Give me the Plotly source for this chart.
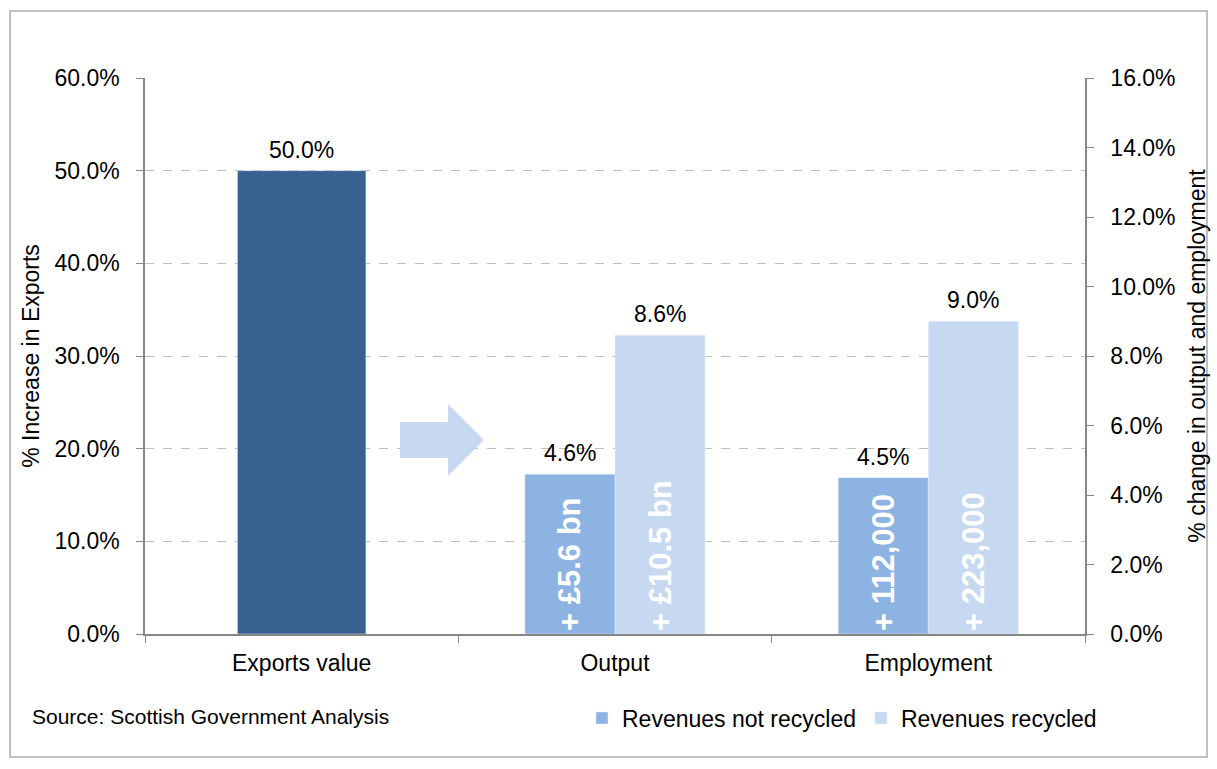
import plotly.graph_objects as go

categories = ["Exports value", "Output", "Employment"]
exports_value = [50.0]
not_recycled = [4.6, 4.5]
recycled = [8.6, 9.0]
not_recycled_text = ["+ £5.6 bn", "+ 112,000"]
recycled_text = ["+ £10.5 bn", "+ 223,000"]
left_ticks = [0, 10, 20, 30, 40, 50, 60]
right_ticks = [0, 2, 4, 6, 8, 10, 12, 14, 16]

W, H = 1217, 769
ML, MR, MT, MB = 145, 132, 78, 135
PW, PH = W - ML - MR, H - MT - MB

def px(x):
    return (x - ML) / PW

def py(y):
    return (H - MB - y) / PH

DARK = "#386192"
MID = "#8db3e2"
LIGHT = "#c6d9f1"
FONT = "Liberation Sans, Arial, sans-serif"
FS = 23

idx = list(range(len(categories)))
grp_w = 0.2875
exp_w = 0.41
sub_x = idx[1:]
x_nr = [i - grp_w / 2 for i in sub_x]
x_r = [i + grp_w / 2 for i in sub_x]

inside_font = dict(color="white", size=31, family=FONT, weight="bold")
label_font = dict(size=FS, color="black", family=FONT)

fig = go.Figure()
fig.add_trace(go.Bar(x=[idx[0]], y=exports_value, width=exp_w, marker_color=DARK,
                     showlegend=False, hoverinfo="skip", yaxis="y"))
fig.add_trace(go.Bar(x=x_nr, y=not_recycled, width=grp_w, marker_color=MID,
                     name="Revenues not recycled", yaxis="y2", hoverinfo="skip",
                     text=not_recycled_text, textposition="inside", insidetextanchor="start",
                     textangle=-90, textfont=inside_font, constraintext="none"))
fig.add_trace(go.Bar(x=x_r, y=recycled, width=grp_w, marker_color=LIGHT,
                     name="Revenues recycled", yaxis="y2", hoverinfo="skip",
                     text=recycled_text, textposition="inside", insidetextanchor="start",
                     textangle=-90, textfont=inside_font, constraintext="none"))

# value labels above bars
annotations = []
for x, v in zip([idx[0]], exports_value):
    annotations.append(dict(x=x, y=v, xref="x", yref="y", text=f"{v:.1f}%", showarrow=False,
                            yanchor="bottom", yshift=6, font=label_font))
for x, v in zip(x_nr + x_r, not_recycled + recycled):
    annotations.append(dict(x=x, y=v, xref="x", yref="y2", text=f"{v:.1f}%", showarrow=False,
                            yanchor="bottom", yshift=6, font=label_font))
annotations.append(dict(text="Source: Scottish Government Analysis", xref="paper", yref="paper",
                        x=px(30), y=py(716), xanchor="left", yanchor="middle", showarrow=False,
                        font=dict(size=21, color="black", family=FONT)))

axis_font = dict(size=FS, color="black", family=FONT)
AX = "#868686"
fig.update_layout(
    width=W, height=H,
    margin=dict(l=ML, r=MR, t=MT, b=MB),
    paper_bgcolor="white", plot_bgcolor="white",
    font=dict(family=FONT, size=FS, color="black"),
    barmode="overlay",
    xaxis=dict(range=[-0.5, 2.5], tickvals=idx, ticktext=categories, ticks="",
               showgrid=False, zeroline=False, showline=True, linecolor=AX, linewidth=1.5,
               tickfont=axis_font, ticklabelstandoff=8,
               minor=dict(tickvals=[-0.5, 0.5, 1.5, 2.5], ticks="outside", ticklen=7,
                          tickcolor=AX, showgrid=False)),
    yaxis=dict(range=[0, 60], tickvals=left_ticks, ticktext=[f"{v:.1f}%" for v in left_ticks],
               ticks="outside", ticklen=7, tickcolor=AX, ticklabelstandoff=12,
               showline=True, linecolor=AX, linewidth=1.5,
               showgrid=True, gridcolor="#bfbfbf", griddash="dash", gridwidth=1.2,
               zeroline=False, tickfont=axis_font,
               title=dict(text="% Increase in Exports", font=axis_font, standoff=8)),
    yaxis2=dict(range=[0, 16], tickvals=right_ticks, ticktext=[f"{v:.1f}%" for v in right_ticks],
                overlaying="y", side="right", anchor="x",
                ticks="outside", ticklen=7, tickcolor=AX, ticklabelstandoff=12,
                showline=True, linecolor=AX, linewidth=1.5,
                showgrid=False, zeroline=False, tickfont=axis_font,
                title=dict(text="% change in output and employment", font=axis_font, standoff=14)),
    legend=dict(orientation="h", x=px(582), y=py(718), xanchor="left", yanchor="middle",
                font=dict(size=FS, color="black", family=FONT), bgcolor="rgba(0,0,0,0)",
                itemwidth=30, tracegroupgap=0),
    shapes=[
        dict(type="rect", xref="paper", yref="paper", x0=px(10), x1=px(1207), y0=py(757), y1=py(11),
             line=dict(color="#bfbfbf", width=2), fillcolor="rgba(0,0,0,0)", layer="below"),
        dict(type="path", xref="paper", yref="paper", layer="above",
             path=(f"M {px(400)},{py(422)} L {px(448)},{py(422)} L {px(448)},{py(404)} "
                   f"L {px(484)},{py(440)} L {px(448)},{py(476)} L {px(448)},{py(458)} "
                   f"L {px(400)},{py(458)} Z"),
             fillcolor=LIGHT, line=dict(width=0)),
    ],
    annotations=annotations,
)

fig.write_html("out.html")
